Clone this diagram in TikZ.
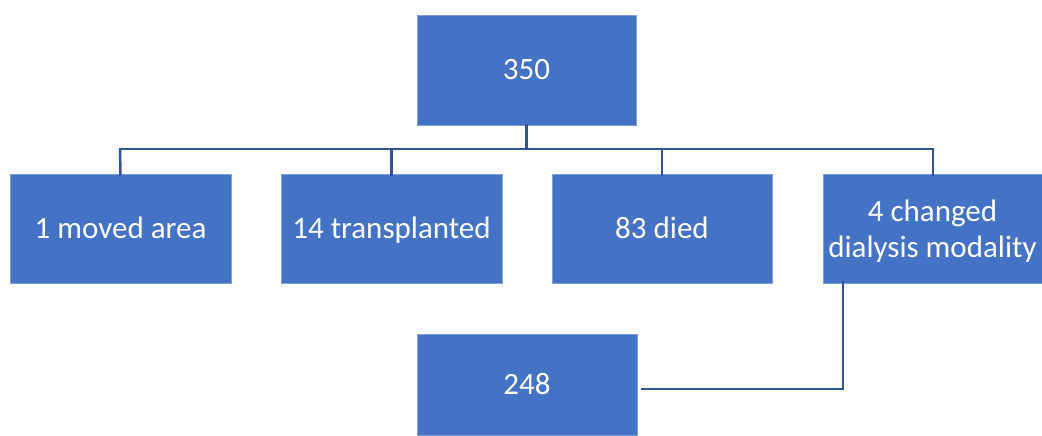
\documentclass[tikz,border=0pt]{standalone}
\usepackage{fontspec}
\setmainfont{Carlito}
\definecolor{boxfill}{HTML}{4472C4}
\definecolor{boxedge}{HTML}{7F9FD8}
\definecolor{linecol}{HTML}{2F5597}
\begin{document}
\begin{tikzpicture}[x=1pt,y=-1pt,
  blockbox/.style={rectangle,fill=boxfill,draw=boxedge,line width=1pt,text=white,
    font=\fontsize{31}{35}\selectfont,align=center,inner sep=0pt},
  oneline/.style={text height=21pt,text depth=2pt},
  boxtext/.style={text=white,font=\fontsize{31}{36}\selectfont,align=center,inner sep=0pt},
  conn/.style={draw=linecol,line width=2.5pt}]
\useasboundingbox (0,0) rectangle (1042,436);
\node[blockbox,oneline,minimum width=219pt,minimum height=109pt] (top) at (526.5,70.5) {350};
\node[blockbox,oneline,minimum width=221pt,minimum height=109pt] (b1) at (120.5,228.5) {1 moved area};
\node[blockbox,oneline,minimum width=221pt,minimum height=109pt] (b2) at (391.5,228.5) {14 transplanted};
\node[blockbox,oneline,minimum width=220pt,minimum height=109pt] (b3) at (662,228.5) {83 died};
\node[blockbox,minimum width=219pt,minimum height=109pt] (b4) at (932.5,228.5) {};
\node[boxtext] (b4t) at (932.5,231.5) {4 changed\\dialysis modality};
\node[blockbox,oneline,minimum width=220pt,minimum height=101pt] (bot) at (527,384.5) {248};
\coordinate (hl) at (120,149);
\coordinate (hr) at (933,149);
\draw[conn] ([yshift=2pt]top.south) -- (top.south |- hl);
\draw[conn,line cap=rect] (hl) -- (hr);
\draw[conn] (hl) -- ([yshift=-2pt]b1.north);
\draw[conn] (b2.north |- hl) -- ([yshift=-2pt]b2.north);
\draw[conn] (b3.north |- hl) -- ([yshift=-2pt]b3.north);
\draw[conn] (hr) -- ([yshift=-2pt]b4.north -| hr);
\coordinate (corner) at (843,389);
\draw[conn] ([yshift=3pt]b4.south -| corner) -- (corner) -- ([xshift=3pt]bot.east |- corner);
\end{tikzpicture}
\end{document}
